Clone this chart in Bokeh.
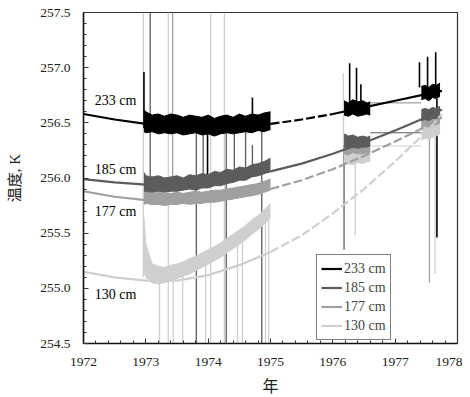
from bokeh.plotting import figure
from bokeh.models import (SingleIntervalTicker, NumeralTickFormatter, Legend, LegendItem, Range1d)
from bokeh.embed import file_html
from bokeh.resources import INLINE
from bokeh.core.properties import value

# ---------------- data ----------------
depths = ["233 cm", "185 cm", "177 cm", "130 cm"]

# smooth model curves
model_years = [1972.0, 1972.5, 1973.0, 1973.5, 1974.0, 1974.5, 1975.0,
               1975.5, 1976.0, 1976.5, 1977.0, 1977.5, 1977.75]
model_233 = [256.58, 256.53, 256.49, 256.46, 256.45, 256.46, 256.49,
             256.53, 256.58, 256.64, 256.70, 256.76, 256.79]
model_185 = [255.99, 255.96, 255.94, 255.94, 255.96, 256.00, 256.06,
             256.13, 256.22, 256.32, 256.43, 256.55, 256.62]
model_177 = [255.88, 255.83, 255.80, 255.79, 255.80, 255.84, 255.90,
             255.98, 256.08, 256.20, 256.33, 256.47, 256.55]
model_130 = [255.15, 255.10, 255.07, 255.07, 255.12, 255.21, 255.33,
             255.48, 255.68, 255.90, 256.15, 256.42, 256.58]

# measured data, period 1 (1973-1975): envelope of the noisy record
p1_years = [1972.97, 1973.0, 1973.1, 1973.2, 1973.3, 1973.4, 1973.5, 1973.6,
            1973.7, 1973.8, 1973.9, 1974.0, 1974.1, 1974.2, 1974.3, 1974.4,
            1974.5, 1974.6, 1974.7, 1974.8, 1974.9, 1975.0]
p1_hi_233 = [256.62, 256.60, 256.57, 256.58, 256.56, 256.58, 256.57, 256.55, 256.57, 256.56, 256.55,
             256.57, 256.54, 256.56, 256.57, 256.55, 256.58, 256.56, 256.58, 256.57, 256.59, 256.60]
p1_lo_233 = [256.42, 256.41, 256.42, 256.40, 256.41, 256.40, 256.41, 256.39, 256.40, 256.41, 256.39,
             256.40, 256.38, 256.40, 256.41, 256.40, 256.41, 256.42, 256.41, 256.43, 256.42, 256.44]
p1_hi_185 = [256.05, 256.02, 256.01, 256.02, 256.00, 256.01, 256.02, 256.00, 256.03, 256.02, 256.04,
             256.03, 256.06, 256.05, 256.08, 256.07, 256.10, 256.09, 256.12, 256.13, 256.15, 256.18]
p1_lo_185 = [255.88, 255.88, 255.87, 255.88, 255.87, 255.88, 255.88, 255.89, 255.90, 255.89, 255.91,
             255.91, 255.93, 255.93, 255.95, 255.96, 255.98, 255.98, 256.01, 256.02, 256.04, 256.07]
p1_hi_177 = [255.90, 255.88, 255.86, 255.87, 255.86, 255.86, 255.87, 255.86, 255.87, 255.88, 255.87,
             255.88, 255.89, 255.89, 255.90, 255.91, 255.92, 255.93, 255.94, 255.95, 255.97, 255.99]
p1_lo_177 = [255.76, 255.77, 255.76, 255.76, 255.75, 255.76, 255.76, 255.77, 255.76, 255.77, 255.77,
             255.78, 255.78, 255.79, 255.80, 255.81, 255.82, 255.83, 255.84, 255.85, 255.87, 255.89]
p1_hi_130 = [255.65, 255.40, 255.22, 255.20, 255.19, 255.21, 255.22, 255.24, 255.27, 255.29, 255.32,
             255.35, 255.38, 255.41, 255.45, 255.49, 255.53, 255.57, 255.62, 255.66, 255.71, 255.77]
p1_lo_130 = [255.15, 255.10, 255.05, 255.04, 255.05, 255.07, 255.09, 255.11, 255.13, 255.16, 255.19,
             255.22, 255.25, 255.28, 255.32, 255.36, 255.40, 255.44, 255.49, 255.53, 255.58, 255.64]

# period 2 (1976)
p2_years = [1976.18, 1976.25, 1976.32, 1976.40, 1976.48, 1976.55, 1976.60]
p2_hi_233 = [256.70, 256.68, 256.71, 256.69, 256.70, 256.68, 256.69]
p2_lo_233 = [256.57, 256.56, 256.58, 256.56, 256.57, 256.58, 256.57]
p2_hi_185 = [256.40, 256.38, 256.39, 256.37, 256.38, 256.37, 256.38]
p2_lo_185 = [256.28, 256.27, 256.28, 256.27, 256.28, 256.28, 256.29]
p2_hi_177 = [256.36, 256.34, 256.35, 256.33, 256.35, 256.34, 256.34]
p2_lo_177 = [256.22, 256.21, 256.23, 256.22, 256.22, 256.23, 256.23]
p2_hi_130 = [256.32, 256.30, 256.31, 256.29, 256.30, 256.29, 256.30]
p2_lo_130 = [256.12, 256.13, 256.12, 256.14, 256.13, 256.15, 256.15]

# period 3 (1977)
p3_years = [1977.42, 1977.48, 1977.54, 1977.60, 1977.66, 1977.72]
p3_hi_233 = [256.83, 256.84, 256.82, 256.85, 256.84, 256.86]
p3_lo_233 = [256.71, 256.72, 256.70, 256.73, 256.72, 256.74]
p3_hi_185 = [256.62, 256.63, 256.62, 256.64, 256.63, 256.65]
p3_lo_185 = [256.52, 256.53, 256.52, 256.54, 256.54, 256.56]
p3_hi_177 = [256.58, 256.58, 256.57, 256.60, 256.59, 256.61]
p3_lo_177 = [256.46, 256.47, 256.46, 256.48, 256.48, 256.50]
p3_hi_130 = [256.54, 256.54, 256.53, 256.56, 256.55, 256.57]
p3_lo_130 = [256.34, 256.36, 256.35, 256.37, 256.38, 256.40]

# straight lines bridging the gap 1976.6 -> 1977.4
gap_start = [1976.60, 1976.60, 1976.60]
gap_end = [1977.42, 1977.42, 1977.42]
gap_level = [256.68, 256.41, 256.29]
gap_series = [2, 1, 3]

# spikes in the record (year, low, high, series index)
spike_year = [1972.96, 1973.07, 1973.36, 1973.43, 1974.04, 1974.26,
              1973.22, 1973.44, 1973.59, 1973.81, 1973.96, 1974.29, 1974.47, 1974.55,
              1974.86, 1974.92, 1974.97,
              1973.99, 1972.97, 1974.71, 1974.71, 1973.92, 1974.42, 1974.60,
              1976.17, 1976.27, 1976.38, 1976.45, 1976.18, 1976.36,
              1977.39, 1977.52, 1977.65, 1977.55, 1977.64, 1977.67]
spike_low = [255.10, 255.95, 254.50, 255.95, 254.50, 254.50,
             254.50, 254.50, 254.50, 254.50, 254.50, 254.50, 254.50, 254.50,
             254.50, 254.50, 254.50,
             255.93, 256.45, 256.55, 256.10, 256.00, 256.02, 256.05,
             256.30, 256.68, 256.68, 256.68, 255.35, 255.48,
             256.82, 256.82, 256.84, 255.05, 255.13, 255.46]
spike_high = [257.50, 257.50, 257.50, 257.50, 257.50, 257.50,
              255.10, 255.10, 255.15, 256.45, 255.25, 256.45, 255.45, 255.48,
              256.45, 255.65, 255.70,
              256.45, 256.96, 256.73, 256.30, 256.42, 256.42, 256.42,
              256.95, 257.04, 257.00, 256.85, 256.30, 256.15,
              257.05, 257.10, 257.14, 256.50, 256.40, 256.72]
spike_series = [3, 1, 3, 2, 3, 3,
                3, 3, 3, 1, 3, 1, 3, 3,
                1, 3, 3,
                0, 0, 0, 1, 1, 1, 1,
                3, 0, 0, 0, 1, 3,
                0, 0, 0, 2, 3, 0]

# in-plot depth labels
label_year = [1972.18, 1972.18, 1972.18, 1972.18]
label_temp = [256.70, 256.08, 255.70, 254.94]

# ---------------- style ----------------
colors = ["#000000", "#5c5c5c", "#a0a0a0", "#cfcfcf"]
SERIF = "Liberation Serif"

p = figure(width=462, height=397, output_backend="svg", toolbar_location=None,
           x_range=Range1d(1972, 1978), y_range=Range1d(254.5, 257.5),
           min_border_left=83, min_border_right=5, min_border_top=12, min_border_bottom=54)
p.xgrid.visible = False
p.ygrid.visible = False
p.outline_line_color = "#333333"
p.outline_line_width = 1.2
p.background_fill_color = "white"
p.border_fill_color = "white"

# spikes (behind everything)
for k in [3, 2, 1, 0]:
    idx = [i for i, s in enumerate(spike_series) if s == k]
    p.segment(x0=[spike_year[i] for i in idx], y0=[spike_low[i] for i in idx],
              x1=[spike_year[i] for i in idx], y1=[spike_high[i] for i in idx],
              line_color=colors[k], line_width=1.6 if k == 0 else 1.3)

# gap bridging lines
for i in range(len(gap_level)):
    p.segment(x0=[gap_start[i]], y0=[gap_level[i]], x1=[gap_end[i]], y1=[gap_level[i]],
              line_color=colors[gap_series[i]], line_width=1.2)

# measured envelopes
periods = [
    (p1_years, [(p1_lo_233, p1_hi_233), (p1_lo_185, p1_hi_185), (p1_lo_177, p1_hi_177), (p1_lo_130, p1_hi_130)]),
    (p2_years, [(p2_lo_233, p2_hi_233), (p2_lo_185, p2_hi_185), (p2_lo_177, p2_hi_177), (p2_lo_130, p2_hi_130)]),
    (p3_years, [(p3_lo_233, p3_hi_233), (p3_lo_185, p3_hi_185), (p3_lo_177, p3_hi_177), (p3_lo_130, p3_hi_130)]),
]
for yrs, bands in periods:
    for k in [3, 2, 1, 0]:
        lo, hi = bands[k]
        p.varea(x=yrs, y1=lo, y2=hi, fill_color=colors[k])
        p.line(yrs, hi, line_color=colors[k], line_width=1)
        p.line(yrs, lo, line_color=colors[k], line_width=1)

# model curves: solid part and dashed part
models = [model_233, model_185, model_177, model_130]
legend_renderers = []
for k in [3, 2, 1, 0]:
    m = models[k]
    r = p.line(model_years[:7], m[:7], line_color=colors[k], line_width=2.2)
    legend_renderers.append((k, r))
    if k == 1:
        p.line(model_years[6:], m[6:], line_color=colors[k], line_width=2.2)
    elif k == 0:
        p.line(model_years[6:9], m[6:9], line_color=colors[k], line_width=2.2, line_dash="9 3")
        p.line(model_years[8:], m[8:], line_color=colors[k], line_width=2.2)
    else:
        p.line(model_years[6:], m[6:], line_color=colors[k], line_width=2.2, line_dash="9 3")

# depth labels
p.text(x=label_year, y=label_temp, text=depths, text_font=value(SERIF),
       text_font_size="14px", text_baseline="middle", text_align="left", text_color="black")

# axes
p.xaxis.ticker = SingleIntervalTicker(interval=1, num_minor_ticks=5)
p.yaxis.ticker = SingleIntervalTicker(interval=0.5, num_minor_ticks=5)
p.yaxis.formatter = NumeralTickFormatter(format="0.0")
for ax in [p.xaxis[0], p.yaxis[0]]:
    ax.major_tick_in = 5
    ax.major_tick_out = 0
    ax.minor_tick_in = 3
    ax.minor_tick_out = 0
    ax.axis_line_width = 1.5
    ax.axis_line_color = "#111111"
    ax.major_tick_line_color = "#333333"
    ax.minor_tick_line_color = "#333333"
    ax.major_label_text_font = SERIF
    ax.major_label_text_font_size = "13.5px"
    ax.major_label_text_color = "#222222"
    ax.axis_label_text_font = "'Liberation Serif', 'Noto Sans CJK SC'"
    ax.axis_label_text_font_style = "normal"
    ax.axis_label_text_font_size = "15px"
    ax.axis_label_text_color = "#222222"
p.yaxis.axis_label = "温度, K"
p.xaxis.axis_label = "年"
p.yaxis.major_label_standoff = 13
p.yaxis.axis_label_standoff = 14
p.xaxis.major_label_standoff = 14
p.xaxis.axis_label_standoff = 9
p.xaxis.axis_label_text_font_size = "16px"

# legend
items = [LegendItem(label=depths[k], renderers=[r]) for k, r in sorted(legend_renderers)]
legend = Legend(items=items, location=(233, 3), border_line_color="black", border_line_width=1,
                background_fill_color="white", background_fill_alpha=1.0,
                label_text_font=SERIF, label_text_font_size="14px",
                glyph_width=21, glyph_height=19, label_height=19, label_standoff=2,
                padding=4, spacing=0, margin=0)
p.add_layout(legend, "center")

open("out.html", "w").write(file_html(p, INLINE))
